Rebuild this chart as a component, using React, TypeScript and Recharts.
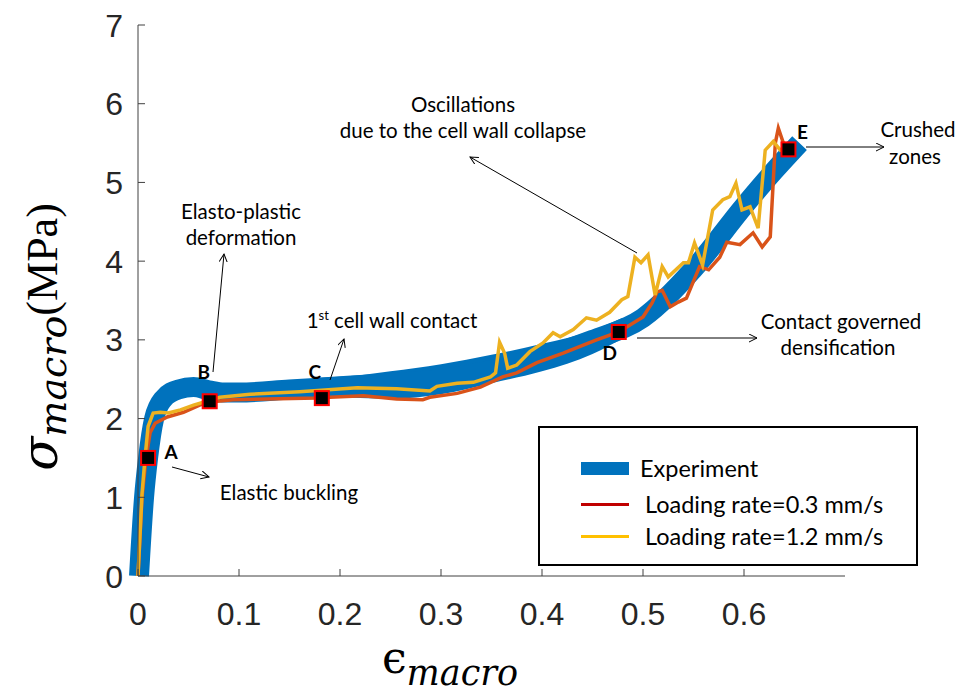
import { ComposedChart, Line, Area, Scatter, XAxis, YAxis, Legend } from 'recharts'

// ── data ─────────────────────────────────────────────────
const xTicks = [0, 0.1, 0.2, 0.3, 0.4, 0.5, 0.6]
const yTicks = [0, 1, 2, 3, 4, 5, 6, 7]

// experiment: centre line of the blue band
const expStrain = [0.001, 0.006, 0.01, 0.016, 0.025, 0.04, 0.055, 0.07, 0.085, 0.1, 0.15, 0.2, 0.25, 0.3, 0.35, 0.4, 0.45, 0.5, 0.55, 0.6, 0.63, 0.655]
const expStress = [0, 1, 1.5, 2.0, 2.25, 2.37, 2.4, 2.36, 2.33, 2.33, 2.37, 2.41, 2.45, 2.5, 2.62, 2.78, 3.0, 3.28, 3.9, 4.7, 5.15, 5.5]
// experiment: where the band is wider (scatter of the tests)
const bandStrain = [0.18, 0.22, 0.25, 0.3, 0.35, 0.4, 0.45, 0.48]
const bandLow = [2.27, 2.26, 2.25, 2.31, 2.45, 2.6, 2.82, 3.02]
const bandHigh = [2.52, 2.55, 2.6, 2.69, 2.81, 2.95, 3.12, 3.28]

const slowStrain = [0.0, 0.004, 0.008, 0.012, 0.017, 0.029, 0.045, 0.061, 0.071, 0.094, 0.128, 0.177, 0.19, 0.223, 0.256, 0.282, 0.289, 0.316, 0.339, 0.361, 0.375, 0.395, 0.421, 0.454, 0.476, 0.5, 0.509, 0.514, 0.519, 0.527, 0.535, 0.543, 0.556, 0.565, 0.576, 0.583, 0.596, 0.609, 0.618, 0.626, 0.631, 0.634, 0.639, 0.645]
const slowStress = [0, 1.0, 1.5, 1.82, 1.94, 2.02, 2.08, 2.17, 2.21, 2.24, 2.25, 2.26, 2.27, 2.29, 2.25, 2.24, 2.27, 2.32, 2.4, 2.53, 2.58, 2.71, 2.83, 3.0, 3.1, 3.29, 3.47, 3.61, 3.63, 3.42, 3.48, 3.53, 3.93, 3.89, 4.05, 4.24, 4.21, 4.36, 4.18, 4.31, 5.5, 5.69, 5.5, 5.42]

const fastStrain = [0.0, 0.004, 0.007, 0.01, 0.015, 0.022, 0.03, 0.042, 0.055, 0.068, 0.081, 0.111, 0.16, 0.217, 0.256, 0.289, 0.296, 0.316, 0.332, 0.349, 0.354, 0.358, 0.363, 0.366, 0.375, 0.388, 0.401, 0.411, 0.418, 0.431, 0.444, 0.454, 0.467, 0.479, 0.485, 0.492, 0.498, 0.505, 0.512, 0.519, 0.525, 0.54, 0.545, 0.551, 0.559, 0.569, 0.579, 0.586, 0.592, 0.598, 0.606, 0.614, 0.621, 0.629, 0.636, 0.645]
const fastStress = [0, 1.05, 1.51, 1.9, 2.07, 2.08, 2.07, 2.11, 2.17, 2.22, 2.27, 2.31, 2.34, 2.39, 2.38, 2.35, 2.41, 2.45, 2.46, 2.53, 2.58, 2.97, 2.83, 2.64, 2.68, 2.85, 2.96, 3.09, 3.04, 3.13, 3.28, 3.25, 3.35, 3.51, 3.55, 4.05, 3.98, 4.08, 3.57, 3.93, 3.8, 3.98, 3.98, 4.23, 3.95, 4.65, 4.78, 4.82, 4.99, 4.65, 4.69, 4.42, 5.41, 5.52, 5.41, 5.45]

const pointNames = ['A', 'B', 'C', 'D', 'E']
const pointStrain = [0.01, 0.071, 0.182, 0.476, 0.644]
const pointStress = [1.5, 2.22, 2.26, 3.1, 5.42]

const seriesNames = ['Experiment', 'Loading rate=0.3 mm/s', 'Loading rate=1.2 mm/s']

const zip = (xs: number[], ys: number[]) => xs.map((x, i) => ({ x, y: ys[i] }))
const expData = zip(expStrain, expStress)
const bandData = bandStrain.map((x, i) => ({ x, range: [bandLow[i], bandHigh[i]] }))
const slowData = zip(slowStrain, slowStress)
const fastData = zip(fastStrain, fastStress)
const pointData = pointNames.map((name, i) => ({ name, x: pointStrain[i], y: pointStress[i] }))

const BLUE = '#0072BD'
const ORANGE = '#D95319'
const YELLOW = '#EDB120'
const AXIS = '#404040'
const NOTE_FONT = 'Lato, "Open Sans", sans-serif'

// letter offsets next to each square
const letterOffset: Record<string, [number, number]> = {
  A: [23, -6], B: [-6, -29], C: [-7, -26], D: [-9, 21], E: [14, -17],
}

function YTick({ x, y, payload }: any) {
  return (
    <g>
      <line x1={x} y1={y} x2={x + 7} y2={y} stroke={AXIS} />
      <text x={x - 15} y={y} dy="0.36em" textAnchor="end" fontSize={32} fill="#262626" fontFamily="'Liberation Sans', Arial">
        {payload.value}
      </text>
    </g>
  )
}

function XTick({ x, y, payload }: any) {
  return (
    <g>
      <line x1={x} y1={y} x2={x} y2={y - 7} stroke={AXIS} />
      <text x={x} y={y + 49} textAnchor="middle" fontSize={32} fill="#262626" fontFamily="'Liberation Sans', Arial">
        {payload.value}
      </text>
    </g>
  )
}

function Marker({ cx, cy, payload }: any) {
  const [dx, dy] = letterOffset[payload.name]
  return (
    <g>
      <rect x={cx - 7} y={cy - 7} width={14} height={14} fill="#000" stroke="#ff0000" strokeWidth={2} />
      <text x={cx + dx} y={cy + dy} dy="0.35em" textAnchor="middle" fontSize={19} fontWeight={700} fontFamily={NOTE_FONT} fill="#000">
        {payload.name}
      </text>
    </g>
  )
}

function LegendBox() {
  const rows = [
    { color: BLUE, thick: 13, top: 42, textLeft: 102 },
    { color: '#C00000', thick: 3, top: 78, textLeft: 107 },
    { color: '#FFC000', thick: 3, top: 110, textLeft: 107 },
  ]
  return (
    <div style={{ position: 'relative', width: 380, height: 140, border: '2px solid #000', boxSizing: 'border-box', background: '#fff' }}>
      {rows.map((r, i) => (
        <div key={i}>
          <div style={{ position: 'absolute', left: 41, top: r.top - r.thick / 2 - 2, width: 48, height: r.thick, background: r.color }} />
          <div style={{ position: 'absolute', left: r.textLeft - 2, top: r.top - 17, fontFamily: NOTE_FONT, fontSize: 23.5, lineHeight: '30px', color: '#000', whiteSpace: 'nowrap' }}>
            {seriesNames[i]}
          </div>
        </div>
      ))}
    </div>
  )
}

function Notes() {
  const t = { fontFamily: NOTE_FONT, fontSize: 20.5, fill: '#000', textAnchor: 'middle' as const }
  const arrow = { stroke: '#000', strokeWidth: 1, markerEnd: 'url(#head)' }
  return (
    <svg width={973} height={697} style={{ position: 'absolute', left: 0, top: 0, pointerEvents: 'none' }}>
      <defs>
        <marker id="head" markerWidth={10} markerHeight={10} refX={8} refY={4} orient="auto" markerUnits="userSpaceOnUse">
          <path d="M0,0 L8,4 L0,8" fill="none" stroke="#000" strokeWidth={1} />
        </marker>
      </defs>

      {/* axis titles */}
      <text transform="translate(57,337) rotate(-90)" textAnchor="middle" fontFamily="'DejaVu Serif', 'Liberation Serif', serif" fill="#000">
        <tspan fontSize={50} fontStyle="italic">σ</tspan>
        <tspan fontSize={38} fontStyle="italic" dy={9}>macro</tspan>
        <tspan fontSize={44} dy={-9} fontFamily="'Liberation Serif', serif">(MPa)</tspan>
      </text>
      <text x={450} y={673} textAnchor="middle" fontFamily="'DejaVu Serif', 'Liberation Serif', serif" fill="#000">
        <tspan fontSize={44}>ϵ</tspan>
        <tspan fontSize={35} fontStyle="italic" dy={12}>macro</tspan>
      </text>

      {/* annotations */}
      <text x={289} y={500} {...t}>Elastic buckling</text>
      <line x1={172} y1={467} x2={209} y2={477} {...arrow} />

      <text x={241} y={219} {...t}>Elasto-plastic</text>
      <text x={241} y={245} {...t}>deformation</text>
      <line x1={213} y1={372} x2={224} y2={254} {...arrow} />

      <text x={392} y={328} {...t}>
        1<tspan fontSize={13} dy={-8}>st</tspan><tspan dy={8}> cell wall contact</tspan>
      </text>
      <line x1={330} y1={380} x2={344} y2={339} {...arrow} />

      <text x={463} y={112} {...t}>Oscillations</text>
      <text x={463} y={138} {...t}>due to the cell wall collapse</text>
      <line x1={637} y1={253} x2={470} y2={157} {...arrow} />

      <text x={841} y={329} {...t}>Contact governed</text>
      <text x={838} y={355} {...t}>densification</text>
      <line x1={637} y1={338} x2={757} y2={338} {...arrow} />

      <text x={918} y={137} {...t}>Crushed</text>
      <text x={915} y={164} {...t}>zones</text>
      <line x1={806} y1={147} x2={884} y2={147} {...arrow} />
    </svg>
  )
}

export default function App() {
  return (
    <div style={{ position: 'absolute', left: 0, top: 0, width: 973, height: 697, background: '#fff' }}>
      <ComposedChart width={973} height={697} margin={{ top: 25, right: 128, left: 78, bottom: 61 }}>
        <XAxis
          type="number" dataKey="x" domain={[0, 0.7]} ticks={xTicks} height={60}
          axisLine={{ stroke: AXIS }} tickLine={false} tickSize={0} tickMargin={0} tick={<XTick />}
        />
        <YAxis
          type="number" domain={[0, 7]} ticks={yTicks} width={60}
          axisLine={{ stroke: AXIS }} tickLine={false} tickSize={0} tickMargin={0} tick={<YTick />}
        />
        <Legend
          verticalAlign="middle" align="center" layout="horizontal"
          wrapperStyle={{ position: 'absolute', left: 538, top: 426, width: 380, height: 140 }}
          content={() => <LegendBox />}
        />
        <Line data={expData} dataKey="y" type="monotone" stroke={BLUE} strokeWidth={20} dot={false} isAnimationActive={false} name={seriesNames[0]} />
        <Area data={bandData} dataKey="range" type="monotone" stroke="none" fill={BLUE} fillOpacity={1} dot={false} activeDot={false} isAnimationActive={false} legendType="none" />
        <Line data={slowData} dataKey="y" type="linear" stroke={ORANGE} strokeWidth={3.5} dot={false} isAnimationActive={false} name={seriesNames[1]} />
        <Line data={fastData} dataKey="y" type="linear" stroke={YELLOW} strokeWidth={3.5} dot={false} isAnimationActive={false} name={seriesNames[2]} />
        <Scatter data={pointData} dataKey="y" shape={<Marker />} isAnimationActive={false} legendType="none" />
      </ComposedChart>
      <Notes />
    </div>
  )
}
